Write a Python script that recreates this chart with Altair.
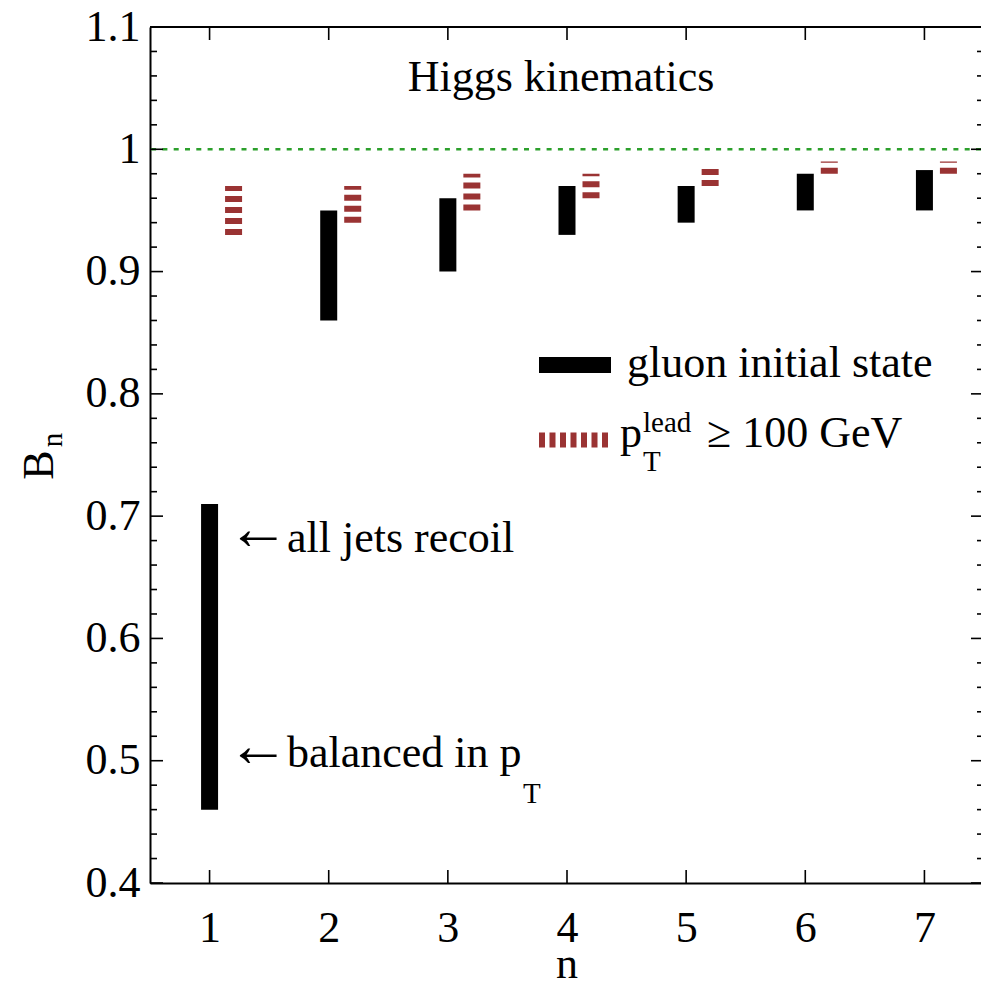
import altair as alt
import pandas as pd

# Jet multiplicity and the B_n bands for each configuration
n = [1, 2, 3, 4, 5, 6, 7]
gluon_low = [0.46, 0.86, 0.90, 0.93, 0.94, 0.95, 0.95]
gluon_high = [0.71, 0.95, 0.96, 0.97, 0.97, 0.98, 0.983]
lead_low = [0.93, 0.94, 0.95, 0.96, 0.97, 0.98, 0.98]
lead_high = [0.97, 0.97, 0.98, 0.98, 0.985, 0.99, 0.99]

# Axis tick values
y_major = [0.4, 0.5, 0.6, 0.7, 0.8, 0.9, 1.0, 1.1]
y_minor = [0.42, 0.44, 0.46, 0.48, 0.52, 0.54, 0.56, 0.58,
           0.62, 0.64, 0.66, 0.68, 0.72, 0.74, 0.76, 0.78,
           0.82, 0.84, 0.86, 0.88, 0.92, 0.94, 0.96, 0.98,
           1.02, 1.04, 1.06, 1.08]
unity = [1.0]
y_top = [1.1]

W = 831          # visible plot width
W_FULL = 834     # width of the x range (right frame sits just off the page)
H = 856
FONT = "Liberation Serif"
FS = 44
FS_SMALL = 29
FS_ARROW = 62
RED = "#9a3333"
GREEN = "#2ca02c"

xs = alt.Scale(domain=[0.5, 7.5], range=[0, W_FULL], nice=False, zero=False)
ys = alt.Scale(domain=[0.4, 1.1], nice=False, zero=False)

gluon_df = pd.DataFrame({"n": n, "lo": gluon_low, "hi": gluon_high})
lead_df = pd.DataFrame({"n": n, "lo": lead_low, "hi": lead_high})
ymaj_df = pd.DataFrame({"y": y_major})
ymin_df = pd.DataFrame({"y": y_minor})
xmaj_df = pd.DataFrame({"n": n})
one = pd.DataFrame({"k": [0]})

gluon = alt.Chart(gluon_df).mark_rule(
    color="black", strokeWidth=17, strokeCap="butt"
).encode(
    x=alt.X("n:Q", scale=xs, axis=alt.Axis(
        values=n, format="d", title=None, orient="bottom",
        labelPadding=23, labelFont=FONT, labelFontSize=FS, labelColor="black",
        domainColor="black", domainWidth=2, ticks=False, tickSize=0, grid=False)),
    y=alt.Y("lo:Q", scale=ys, axis=alt.Axis(
        values=y_major, format="~g", title=None, orient="left",
        labelPadding=10, labelFont=FONT, labelFontSize=FS, labelColor="black",
        domainColor="black", domainWidth=2, ticks=False, tickSize=0, grid=False)),
    y2="hi:Q",
)

# Dashed bands for the leading-jet cut, shifted right of the gluon bands
lead = alt.Chart(lead_df).mark_rule(
    color=RED, strokeWidth=17, strokeCap="butt", strokeDash=[6, 5], xOffset=24
).encode(
    x=alt.X("n:Q", scale=xs, axis=None),
    y=alt.Y("lo:Q", scale=ys, axis=None),
    y2="hi:Q",
)

unity_line = alt.Chart(pd.DataFrame({"y": unity})).mark_rule(
    color=GREEN, strokeWidth=2.5, strokeDash=[5, 6.3]
).encode(y=alt.Y("y:Q", scale=ys, axis=None))

top_frame = alt.Chart(pd.DataFrame({"y": y_top})).mark_rule(
    color="black", strokeWidth=2
).encode(y=alt.Y("y:Q", scale=ys, axis=None))

# Inward-pointing ticks on all four sides
def yticks(df, x0, x1):
    return alt.Chart(df).mark_rule(color="black", strokeWidth=1.6).encode(
        y=alt.Y("y:Q", scale=ys, axis=None),
        x=alt.value(x0), x2=alt.value(x1))

def xticks(y0, y1):
    return alt.Chart(xmaj_df).mark_rule(color="black", strokeWidth=1.6).encode(
        x=alt.X("n:Q", scale=xs, axis=None),
        y=alt.value(y0), y2=alt.value(y1))

ticks = [
    yticks(ymaj_df, 0, 13), yticks(ymin_df, 0, 7),
    yticks(ymaj_df, W_FULL, W_FULL - 13), yticks(ymin_df, W_FULL, W_FULL - 7),
    xticks(H, H - 13), xticks(0, 13),
]

def label(text, x, y, size=FS, align="left", angle=0, font=FONT):
    return alt.Chart(pd.DataFrame({"t": [text]})).mark_text(
        font=font, fontSize=size, color="black", align=align,
        baseline="alphabetic", angle=angle
    ).encode(text="t:N", x=alt.value(x), y=alt.value(y))

texts = [
    label("Higgs kinematics", 411, 64, align="center"),
    label("\u2190", 77, 522, size=FS_ARROW),
    label("all jets recoil", 137, 525),
    label("\u2190", 77, 739, size=FS_ARROW),
    label("balanced in p", 137, 740),
    label("T", 373, 776, size=FS_SMALL),
    label("gluon initial state", 477, 350),
    label("p", 470, 420),
    label("lead", 493, 405, size=FS_SMALL),
    label("T", 493, 444, size=FS_SMALL),
    label("\u2265 100 GeV", 557, 420),
    label("n", 417, 951, align="center"),
    label("B", -97, 438, align="center", angle=270),
    label("n", -88, 413, size=FS_SMALL, align="center", angle=270),
]

# Legend swatches
swatch_gluon = alt.Chart(one).mark_rule(
    color="black", strokeWidth=16, strokeCap="butt"
).encode(x=alt.value(389), x2=alt.value(461), y=alt.value(338))
swatch_lead = alt.Chart(one).mark_rule(
    color=RED, strokeWidth=15, strokeCap="butt", strokeDash=[6, 4.5]
).encode(x=alt.value(389), x2=alt.value(458), y=alt.value(413))

chart = alt.layer(
    gluon, unity_line, top_frame, lead, *ticks, swatch_gluon, swatch_lead, *texts
).resolve_axis(
    x="independent", y="independent"
).properties(
    width=W, height=H,
    padding={"left": 150, "top": 27, "right": 0, "bottom": 106},
    autosize=alt.AutoSizeParams(type="none"),
).configure_view(strokeWidth=0)

chart.save("out.html", embed_options={"renderer": "svg", "actions": False})
